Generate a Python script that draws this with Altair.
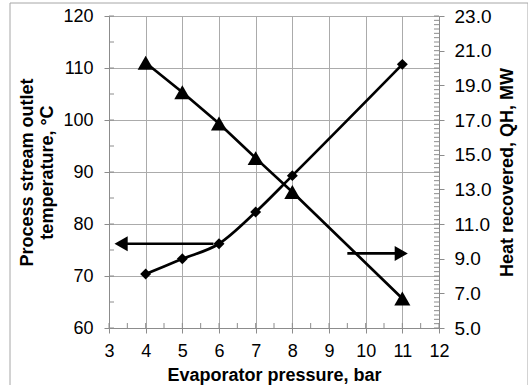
import altair as alt
import pandas as pd

pressure = [4, 5, 6, 7, 8, 11]
temperature = [70.4, 73.3, 76.2, 82.3, 89.3, 110.7]
heat = [20.3, 18.6, 16.8, 14.8, 12.85, 6.7]

left_arrow_x = [5.85, 3.45]
left_arrow_y = [76.2, 76.2]
left_head_x = [3.33]
right_arrow_x = [9.5, 10.85]
right_arrow_y = [9.3, 9.3]
right_head_x = [10.97]

x_minor = [3 + 0.5 * i for i in range(19)]
left_minor = [60 + 5 * i for i in range(13)]
right_minor = [5 + 0.25 * i for i in range(73)]

FONT = "Liberation Sans"
GRID = "#ababab"
AXC = "#8c8c8c"

xs = alt.Scale(domain=[3, 12], nice=False, zero=False)
ys_l = alt.Scale(domain=[60, 120], nice=False, zero=False)
ys_r = alt.Scale(domain=[5, 23], nice=False, zero=False)

df = pd.DataFrame({"p": pressure, "t": temperature, "q": heat})

x_axis = alt.Axis(values=list(range(3, 13)), grid=True, gridColor=GRID, domainColor=AXC,
                  tickColor=AXC, tickSize=5, labelFontSize=18, labelFont=FONT, labelColor="#000",
                  labelPadding=9, labelOverlap=False, labelFlush=False,
                  title="Evaporator pressure, bar", titleFont=FONT,
                  titleFontSize=18, titleFontWeight="bold", titleColor="#000",
                  titleX=165, titleY=47, titleBaseline="middle")
left_axis = alt.Axis(values=[60, 70, 80, 90, 100, 110, 120], grid=True, gridColor=GRID,
                     domainColor=AXC, tickColor=AXC, tickSize=5, labelFontSize=18,
                     labelFont=FONT, labelColor="#000", labelPadding=11,
                     labelOverlap=False, labelFlush=False,
                     title=["Process stream outlet", "temperature, °C"], titleFont=FONT,
                     titleFontSize=18, titleFontWeight="bold", titleColor="#000",
                     titleAngle=270, titleX=-82, titleY=156, titleAlign="center",
                     titleBaseline="middle", titleLineHeight=20, orient="left")
right_axis = alt.Axis(values=[5, 7, 9, 11, 13, 15, 17, 19, 21, 23], format=".1f", grid=False,
                      domainColor=AXC, tickColor=AXC, tickSize=5, labelFontSize=19,
                      labelFont=FONT, labelColor="#000", labelPadding=10,
                      labelOverlap=False, labelFlush=False,
                      title="Heat recovered, QH, MW", titleFont=FONT, titleFontSize=18,
                      titleFontWeight="bold", titleColor="#000", titleAngle=270,
                      titleX=68, titleY=156, titleAlign="center", titleBaseline="middle",
                      orient="right")


def X(f):
    return alt.X(f, scale=xs, axis=x_axis)


def YL(f):
    return alt.Y(f, scale=ys_l, axis=left_axis)


def YR(f):
    return alt.Y(f, scale=ys_r, axis=right_axis)


border = alt.Chart(pd.DataFrame({"a": [0]})).mark_rect(fill=None, stroke="#a6a6a6", strokeWidth=1).encode(
    x=alt.value(-99), x2=alt.value(419), y=alt.value(-13), y2=alt.value(370))

xminor = alt.Chart(pd.DataFrame({"v": x_minor})).mark_rule(color=AXC).encode(
    x=X("v:Q"), y=alt.value(307), y2=alt.value(312))

lminor = alt.Chart(pd.DataFrame({"v": left_minor})).mark_rule(color=AXC).encode(
    y=YL("v:Q"), x=alt.value(0), x2=alt.value(5))

temp_line = alt.Chart(df).mark_line(color="black", strokeWidth=2.7, interpolate="monotone").encode(
    x=X("p:Q"), y=YL("t:Q"))
temp_pts = alt.Chart(df).mark_point(shape="diamond", filled=True, color="black", size=120, opacity=1).encode(
    x=X("p:Q"), y=YL("t:Q"))

la = pd.DataFrame({"x": left_arrow_x, "y": left_arrow_y})
la_line = alt.Chart(la).mark_line(color="black", strokeWidth=2.7).encode(
    x=X("x:Q"), y=YL("y:Q"))
la_head = alt.Chart(pd.DataFrame({"x": left_head_x, "y": [left_arrow_y[0]]})).mark_point(
    shape="triangle-left", filled=True, color="black", size=230, opacity=1).encode(
    x=X("x:Q"), y=YL("y:Q"))

left = alt.layer(border, xminor, lminor, temp_line, temp_pts, la_line, la_head)

rminor = alt.Chart(pd.DataFrame({"v": right_minor})).mark_rule(color=AXC).encode(
    y=YR("v:Q"), x=alt.value(325), x2=alt.value(330))

heat_line = alt.Chart(df).mark_line(color="black", strokeWidth=2.7).encode(
    x=X("p:Q"), y=YR("q:Q"))
heat_pts = alt.Chart(df).mark_point(shape="triangle-up", filled=True, color="black", size=260, opacity=1).encode(
    x=X("p:Q"), y=YR("q:Q"))

ra = pd.DataFrame({"x": right_arrow_x, "y": right_arrow_y})
ra_line = alt.Chart(ra).mark_line(color="black", strokeWidth=2.7).encode(
    x=X("x:Q"), y=YR("y:Q"))
ra_head = alt.Chart(pd.DataFrame({"x": right_head_x, "y": [right_arrow_y[0]]})).mark_point(
    shape="triangle-right", filled=True, color="black", size=230, opacity=1).encode(
    x=X("x:Q"), y=YR("y:Q"))

right = alt.layer(rminor, heat_line, heat_pts, ra_line, ra_head)

chart = alt.layer(left, right).resolve_scale(y="independent").properties(
    width=330, height=312,
    autosize=alt.AutoSizeParams(type="none"),
    padding={"left": 109, "top": 16, "right": 89, "bottom": 57},
    background="white",
).configure_view(strokeWidth=0)

chart.save("out.html", embed_options={"renderer": "svg", "actions": False})
